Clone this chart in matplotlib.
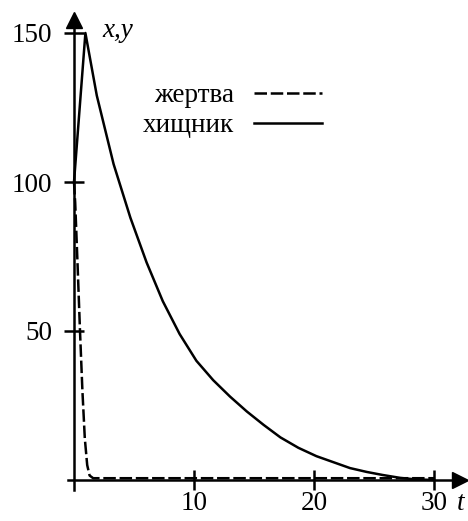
import matplotlib.pyplot as plt

# хищник (predator), solid
t_pred = [0, 0.95, 1.9, 3.3, 4.7, 6.05, 7.4, 8.8, 10.2, 11.6, 13.0, 14.4, 15.8,
          17.2, 18.7, 20.2, 21.6, 23.0, 24.4, 25.7, 27.2, 28.5, 30]
y_pred = [100, 150, 129, 106, 88, 73, 60, 49, 40, 33.5, 28, 23, 18.5,
          14.3, 10.8, 8, 6, 4, 2.7, 1.7, 0.7, 0.2, 0]

# жертва (prey), dashed
t_prey = [0, 0.1, 0.3, 0.5, 0.7, 0.9, 1.1, 1.3, 1.6, 30]
y_prey = [100, 93, 72, 50, 30, 14, 5, 1.5, 0.6, 0.6]

xticks = [10, 20, 30]
yticks = [50, 100, 150]

plt.rcParams['font.family'] = ['Liberation Serif', 'DejaVu Serif']

fig = plt.figure(figsize=(4.68, 5.21), dpi=100)
ax = fig.add_axes([0, 0, 1, 1])
ax.set_xlim(-74 / 12, (468 - 74) / 12)
ax.set_ylim(-41 / 2.98, 480 / 2.98)

lw = 1.8
ax.plot(t_prey, y_prey, color='k', lw=lw, dashes=(5, 1.5), label='жертва')
ax.plot(t_pred, y_pred, color='k', lw=lw, label='хищник')

for s in ['top', 'right']:
    ax.spines[s].set_visible(False)
ax.spines['left'].set_position(('data', 0))
ax.spines['bottom'].set_position(('data', 0))
ax.spines['left'].set_bounds(-3.4, 154)
ax.spines['bottom'].set_bounds(-0.5, 32)
ax.spines['left'].set_linewidth(lw)
ax.spines['bottom'].set_linewidth(lw)

# arrow heads
ax.plot(0, 154.5, marker='^', color='k', ms=12, clip_on=False)
ax.plot(32.2, 0, marker='>', color='k', ms=12, clip_on=False)

fs = 19.5
ax.set_xticks(xticks)
ax.set_yticks(yticks)
ax.tick_params(direction='inout', length=14.4, width=lw, labelsize=fs)
ax.tick_params(axis='y', pad=8.6)
ax.tick_params(axis='x', pad=1)

ax.text(2.4, 151, 'x,y', style='italic', fontsize=fs, ha='left', va='center')
ax.text(31.9, -8.0, 't', style='italic', fontsize=fs, ha='left', va='center')

ax.legend(loc='upper right', bbox_to_anchor=(322 / 468, 1 - 83 / 521),
          frameon=False, markerfirst=False, fontsize=fs, handlelength=2.5,
          handletextpad=0.75, labelspacing=0.2, borderpad=0, borderaxespad=0)

fig.savefig('out.png', dpi=100)
